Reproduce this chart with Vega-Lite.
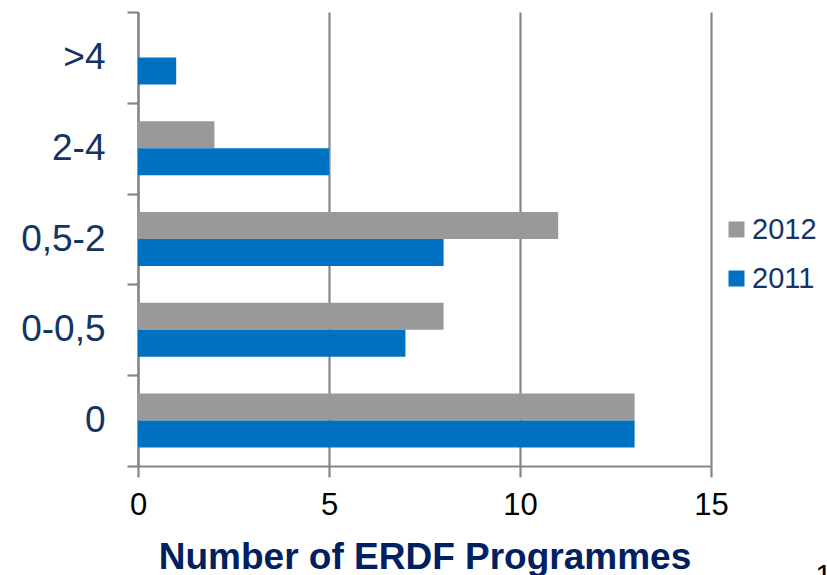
{
  "$schema": "https://vega.github.io/schema/vega-lite/v6.json",
  "width": 573,
  "height": 454,
  "autosize": {"type": "none"},
  "padding": {"left": 138, "top": 12, "right": 116, "bottom": 109},
  "background": "white",
  "config": {"view": {"stroke": null}, "font": "Liberation Sans"},
  "title": {
    "text": "1",
    "orient": "bottom",
    "anchor": "end",
    "frame": "group",
    "fontSize": 30,
    "fontWeight": "normal",
    "color": "black",
    "dx": 121,
    "dy": -18
  },
  "data": {
    "values": [
      {"range": ">4", "year": "2012", "count": 0},
      {"range": ">4", "year": "2011", "count": 1},
      {"range": "2-4", "year": "2012", "count": 2},
      {"range": "2-4", "year": "2011", "count": 5},
      {"range": "0,5-2", "year": "2012", "count": 11},
      {"range": "0,5-2", "year": "2011", "count": 8},
      {"range": "0-0,5", "year": "2012", "count": 8},
      {"range": "0-0,5", "year": "2011", "count": 7},
      {"range": "0", "year": "2012", "count": 13},
      {"range": "0", "year": "2011", "count": 13}
    ]
  },
  "mark": {"type": "bar"},
  "encoding": {
    "y": {
      "field": "range",
      "type": "nominal",
      "sort": [">4", "2-4", "0,5-2", "0-0,5", "0"],
      "scale": {"paddingInner": 0, "paddingOuter": 0},
      "axis": {
        "title": null,
        "tickBand": "extent",
        "grid": false,
        "domainColor": "#868686",
        "domainWidth": 2.2,
        "tickColor": "#868686",
        "tickWidth": 2.2,
        "tickSize": 11,
        "labelFontSize": 37,
        "labelColor": "#143463",
        "labelPadding": 22
      }
    },
    "yOffset": {
      "field": "year",
      "type": "nominal",
      "sort": ["2012", "2011"],
      "scale": {"paddingInner": 0, "paddingOuter": 0.68}
    },
    "x": {
      "field": "count",
      "type": "quantitative",
      "scale": {"domain": [0, 15], "nice": false},
      "axis": {
        "values": [0, 5, 10, 15],
        "title": "Number of ERDF Programmes",
        "titleFontSize": 37,
        "titleFontWeight": "bold",
        "titleColor": "#002060",
        "titlePadding": 19,
        "labelFontSize": 31,
        "labelColor": "black",
        "labelPadding": 13,
        "labelFlush": false,
        "grid": true,
        "gridColor": "#868686",
        "gridWidth": 2.2,
        "domainColor": "#868686",
        "domainWidth": 2.2,
        "tickColor": "#868686",
        "tickWidth": 2.2,
        "tickSize": 11
      }
    },
    "color": {
      "field": "year",
      "type": "nominal",
      "scale": {"domain": ["2012", "2011"], "range": ["#999999", "#0070C0"]},
      "legend": {
        "title": null,
        "orient": "none",
        "legendX": 584,
        "legendY": 203,
        "padding": 0,
        "symbolType": "square",
        "symbolSize": 256,
        "symbolStrokeWidth": 0,
        "symbolOpacity": 1,
        "labelFontSize": 29,
        "labelColor": "#143463",
        "labelOffset": 1,
        "rowPadding": 19
      }
    }
  }
}
